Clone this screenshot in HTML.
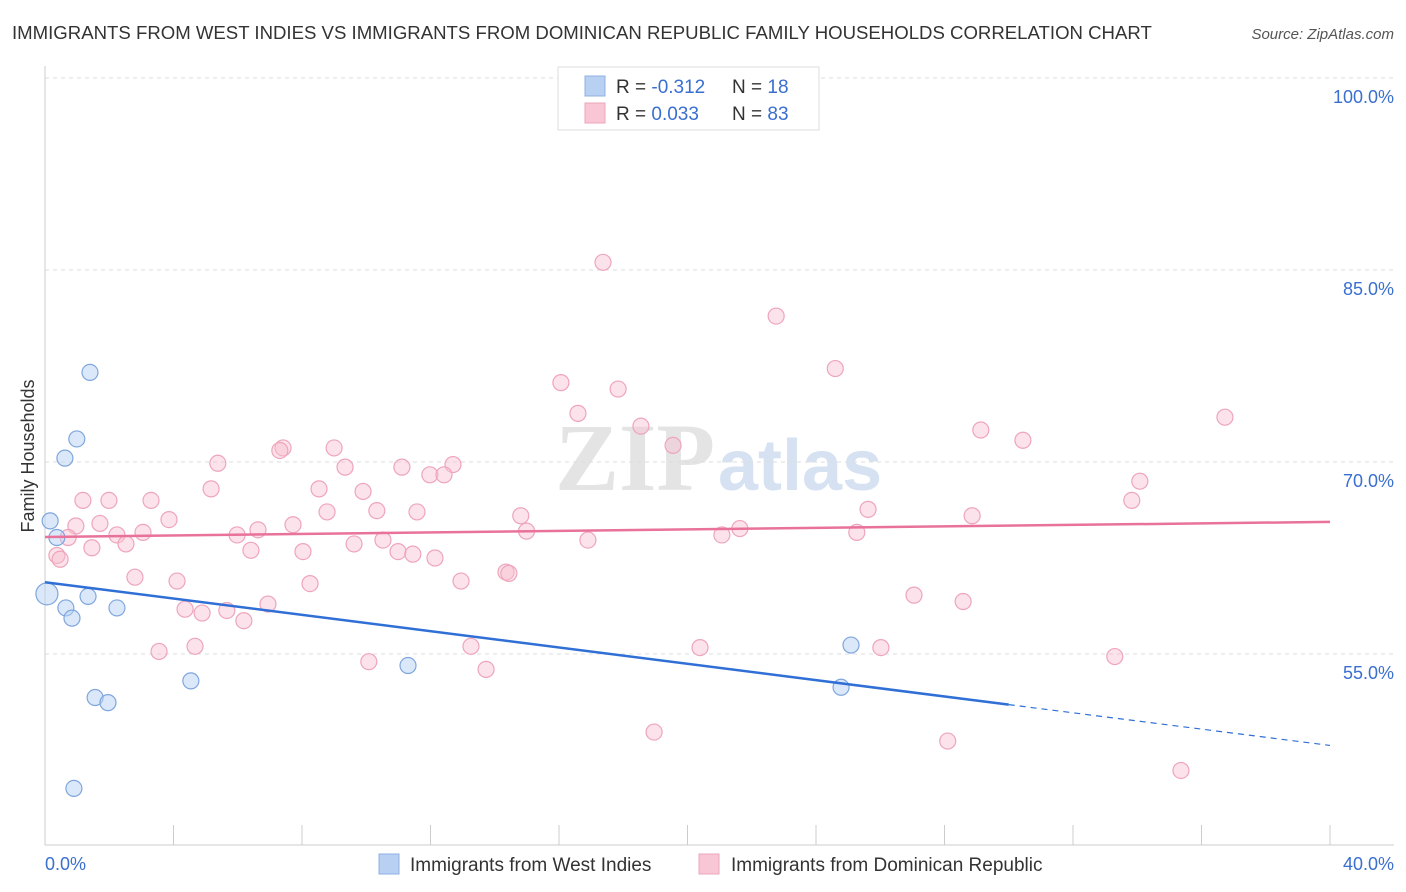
<!DOCTYPE html>
<html><head><meta charset="utf-8">
<style>
body{margin:0;background:#fff;font-family:"Liberation Sans",sans-serif;}
#c{position:relative;width:1406px;height:892px;overflow:hidden;}
</style></head>
<body>
<div id="c">
<svg id="svg" width="1406" height="892">
<text x="12" y="39" font-size="18.6" fill="#333">IMMIGRANTS FROM WEST INDIES VS IMMIGRANTS FROM DOMINICAN REPUBLIC FAMILY HOUSEHOLDS CORRELATION CHART</text>
<text x="1394" y="39" font-size="15" fill="#555" text-anchor="end" font-style="italic">Source: ZipAtlas.com</text>
<text x="555" y="490" font-size="96" fill="#e4e4e4" font-family="Liberation Serif,serif" font-weight="bold">ZIP</text>
<text x="718" y="490" font-size="72" fill="#d6e2f2" font-weight="bold">atlas</text>
<text transform="translate(34,456) rotate(-90)" font-size="18" fill="#333" text-anchor="middle">Family Households</text>
<g id="grid"></g><g id="pts"></g><g id="lines"></g>
<g>
<rect x="558" y="67" width="261" height="63" fill="#fff" stroke="#ddd"/>
<rect x="585" y="76" width="20" height="20" fill="#b8d1f3" stroke="#8fb0e0"/>
<rect x="585" y="103" width="20" height="20" fill="#f8c6d5" stroke="#eea5bc"/>
<text x="616" y="93" font-size="19" fill="#333">R = <tspan fill="#3a6fd0">-0.312</tspan><tspan x="732">N = </tspan><tspan fill="#3a6fd0">18</tspan></text>
<text x="616" y="120" font-size="19" fill="#333">R = <tspan fill="#3a6fd0"> 0.033</tspan><tspan x="732">N = </tspan><tspan fill="#3a6fd0">83</tspan></text>
</g>
<g>
<rect x="379" y="854" width="20" height="20" fill="#b8d1f3" stroke="#8fb0e0"/>
<text x="410" y="871" font-size="19" fill="#333">Immigrants from West Indies</text>
<rect x="699" y="854" width="20" height="20" fill="#f8c6d5" stroke="#eea5bc"/>
<text x="731" y="871" font-size="19" fill="#333">Immigrants from Dominican Republic</text>
</g>
</svg>
</div>
<script>
const blueX=[0.16,0.37,0.06,1.40,0.99,0.62,0.65,0.84,1.34,2.24,1.56,1.96,0.90,4.54,11.30,25.09,24.78];
const blueY=[65.4,64.1,59.7,77.0,71.8,70.3,58.6,57.8,59.5,58.6,51.6,51.2,44.5,52.9,54.1,55.7,52.4];
const pinkX=[17.37,22.76,24.60,16.06,17.84,16.59,18.55,19.55,36.73,29.13,30.44,7.41,7.31,9.00,5.38,9.34,11.11,12.70,11.98,12.42,9.90,5.17,8.53,1.18,1.99,3.30,34.08,33.83,25.62,8.78,10.33,11.58,14.81,3.86,7.72,1.71,0.96,28.86,21.63,21.07,25.27,14.99,5.98,6.63,3.05,2.24,0.72,10.52,9.62,10.99,11.45,12.14,8.03,6.41,1.46,2.52,16.90,0.37,0.47,2.80,4.11,8.25,12.95,14.35,14.44,27.05,28.58,4.36,4.89,5.66,6.94,6.19,3.55,4.67,13.26,10.08,13.73,20.39,26.02,33.30,18.96,28.10,35.36];
const pinkY=[85.6,81.4,77.3,76.2,75.7,73.8,72.8,71.3,73.5,72.5,71.7,71.1,70.9,71.1,69.9,69.6,69.6,69.8,69.0,69.0,67.7,67.9,67.9,67.0,67.0,67.0,68.5,67.0,66.3,66.1,66.2,66.1,65.8,65.5,65.1,65.2,65.0,65.8,64.8,64.3,64.5,64.6,64.3,64.7,64.5,64.3,64.1,63.9,63.6,63.0,62.8,62.5,63.0,63.1,63.3,63.6,63.9,62.7,62.4,61.0,60.7,60.5,60.7,61.4,61.3,59.6,59.1,58.5,58.2,58.4,58.9,57.6,55.2,55.6,55.6,54.4,53.8,55.5,55.5,54.8,48.9,48.2,45.9];
const yTicks=[100,85,70,55];
const X=v=>45+v/40*1285, Y=v=>78+(100-v)*12.8;
const NS='http://www.w3.org/2000/svg';
function mk(t,a,p){const e=document.createElementNS(NS,t);for(const k in a)e.setAttribute(k,a[k]);p.appendChild(e);return e;}
const grid=document.getElementById('grid');
yTicks.forEach(t=>{
 const l=mk('line',{x1:45,x2:1394,y1:Y(t),y2:Y(t),stroke:'#ddd','stroke-dasharray':'4,4'},grid);
 
 
 const tx=mk('text',{x:1394,y:Y(t)+25,'font-size':18,fill:'#3a6fd0','text-anchor':'end'},grid);
 tx.textContent=t.toFixed(1)+'%';
 
 
});
mk('line',{x1:45,x2:45,y1:66,y2:845,stroke:'#ccc'},grid);
mk('line',{x1:45,x2:1394,y1:845,y2:845,stroke:'#ccc'},grid);
for(let i=0;i<=10;i++){mk('line',{x1:X(i*4),x2:X(i*4),y1:825,y2:845,stroke:'#ccc'},grid);}
let a=mk('text',{x:45,y:870,'font-size':18,fill:'#3a6fd0'},grid);a.textContent='0.0%';

a=mk('text',{x:1394,y:870,'font-size':18,fill:'#3a6fd0','text-anchor':'end'},grid);a.textContent='40.0%';

const pts=document.getElementById('pts');
pinkX.forEach((x,i)=>{const c=mk('circle',{cx:X(x),cy:Y(pinkY[i]),r:8,fill:'rgba(248,190,208,0.45)',stroke:'#eea5bc','stroke-width':1.2},pts);
 
 });
blueX.forEach((x,i)=>{const c=mk('circle',{cx:X(x),cy:Y(blueY[i]),r:i==2?11:8,fill:'rgba(184,209,243,0.5)',stroke:'#7fa6dd','stroke-width':1.2},pts);
 
 });
const ln=document.getElementById('lines');
function fit(xs,ys){const n=xs.length,mx=xs.reduce((a,b)=>a+b)/n,my=ys.reduce((a,b)=>a+b)/n;let sxy=0,sxx=0;xs.forEach((x,i)=>{sxy+=(x-mx)*(ys[i]-my);sxx+=(x-mx)**2;});const b=sxy/sxx;return [my-b*mx,b];}
const [pa,pb]=fit(pinkX,pinkY);
let l=mk('line',{x1:X(0),y1:Y(pa),x2:X(40),y2:Y(pa+pb*40),stroke:'#e8729a','stroke-width':2.5},ln);

const [ba,bb]=fit(blueX,blueY);
l=mk('line',{x1:X(0),y1:Y(ba),x2:X(30),y2:Y(ba+bb*30),stroke:'#2f6fd6','stroke-width':2.5},ln);

l=mk('line',{x1:X(30),y1:Y(ba+bb*30),x2:X(40),y2:Y(ba+bb*40),stroke:'#2f6fd6','stroke-width':1.2,'stroke-dasharray':'6,5'},ln);

</script>
</body></html>
